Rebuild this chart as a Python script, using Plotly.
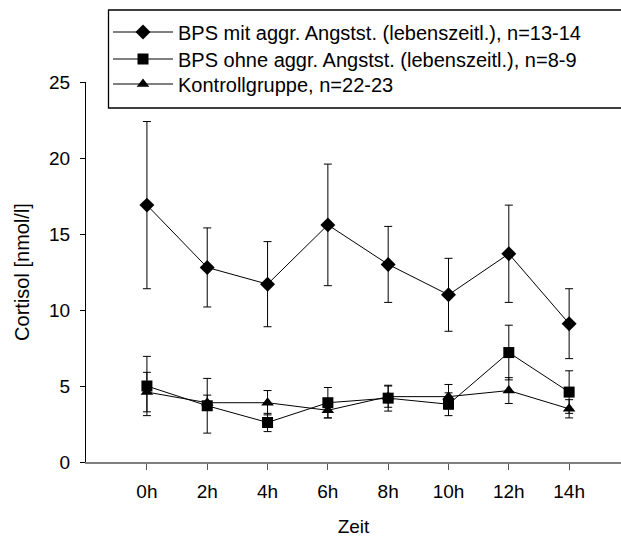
import plotly.graph_objects as go

# Sampling times
zeit = ["0h", "2h", "4h", "6h", "8h", "10h", "12h", "14h"]

# Cortisol means [nmol/l] and error-bar half-widths per group
bps_mit = [16.9, 12.8, 11.7, 15.6, 13.0, 11.0, 13.7, 9.1]
bps_mit_err = [5.5, 2.6, 2.8, 4.0, 2.5, 2.4, 3.2, 2.3]

bps_ohne = [5.0, 3.7, 2.6, 3.9, 4.2, 3.8, 7.2, 4.6]
bps_ohne_err = [1.95, 1.8, 0.6, 1.0, 0.85, 0.75, 1.8, 1.4]

kontrolle = [4.6, 3.9, 3.9, 3.4, 4.3, 4.3, 4.7, 3.5]
kontrolle_err = [1.3, 0.5, 0.8, 0.5, 0.7, 0.8, 0.85, 0.6]

names = [
    "BPS mit aggr. Angstst. (lebenszeitl.), n=13-14",
    "BPS ohne aggr. Angstst. (lebenszeitl.), n=8-9",
    "Kontrollgruppe, n=22-23",
]

FONT = "Liberation Sans, Arial, sans-serif"

W, H = 621, 537
ml, mr, mt, mb = 86, 0, 82, 75
ph = H - mt - mb


def py(pix):
    # pixel row -> paper y
    return (H - mb - pix) / ph


def px(pix):
    # pixel column -> paper x
    return (pix - ml) / (W - ml - mr)


fig = go.Figure()
series = [
    (bps_mit, bps_mit_err, "diamond", 11.5, "legend"),
    (bps_ohne, bps_ohne_err, "square", 11, "legend2"),
    (kontrolle, kontrolle_err, "triangle-up", 11, "legend3"),
]
for (vals, errs, sym, size, leg), name in zip(series, names):
    fig.add_trace(go.Scatter(
        x=zeit, y=vals, name=name, mode="lines+markers", legend=leg,
        line=dict(color="black", width=1),
        marker=dict(symbol=sym, size=size, color="black", line=dict(width=0)),
        error_y=dict(type="data", array=errs, visible=True,
                     color="black", thickness=1, width=4),
    ))

# one legend per row so the rows sit at their own heights inside the frame
legend_rows = {"legend": 32, "legend2": 59, "legend3": 84}
legend_layout = {
    key: dict(
        x=px(108), y=py(row), xanchor="left", yanchor="middle",
        bgcolor="rgba(0,0,0,0)", borderwidth=0,
        font=dict(size=20, family=FONT),
        itemwidth=60,
    )
    for key, row in legend_rows.items()
}

fig.update_layout(
    width=W, height=H,
    margin=dict(l=ml, r=mr, t=mt, b=mb, pad=0, autoexpand=False),
    paper_bgcolor="white", plot_bgcolor="white",
    font=dict(family=FONT, size=19, color="black"),
    showlegend=True,
    **legend_layout,
    shapes=[dict(
        type="rect", xref="paper", yref="paper",
        x0=px(108.5), x1=1.1, y0=py(108), y1=py(10),
        line=dict(color="black", width=1.3), fillcolor="rgba(0,0,0,0)",
    )],
    xaxis=dict(
        type="category", range=[-1.01, 7.86], automargin=False,
        showgrid=False, zeroline=False,
        showline=True, linecolor="#7f7f7f", linewidth=1.5,
        ticks="outside", ticklen=6, tickcolor="#555555", tickwidth=1,
        ticklabelstandoff=5,
        tickfont=dict(size=19, family=FONT),
        title=dict(text="Zeit", font=dict(size=19, family=FONT), standoff=26),
    ),
    yaxis=dict(
        range=[0, 25], tickvals=[0, 5, 10, 15, 20, 25], automargin=False,
        showgrid=False, zeroline=False,
        showline=True, linecolor="black", linewidth=1,
        ticks="outside", ticklen=5, tickcolor="black", tickwidth=1,
        ticklabelstandoff=6,
        tickfont=dict(size=19, family=FONT),
        title=dict(text="Cortisol [nmol/l]", font=dict(size=20, family=FONT), standoff=14),
    ),
)

fig.write_html("out.html")
